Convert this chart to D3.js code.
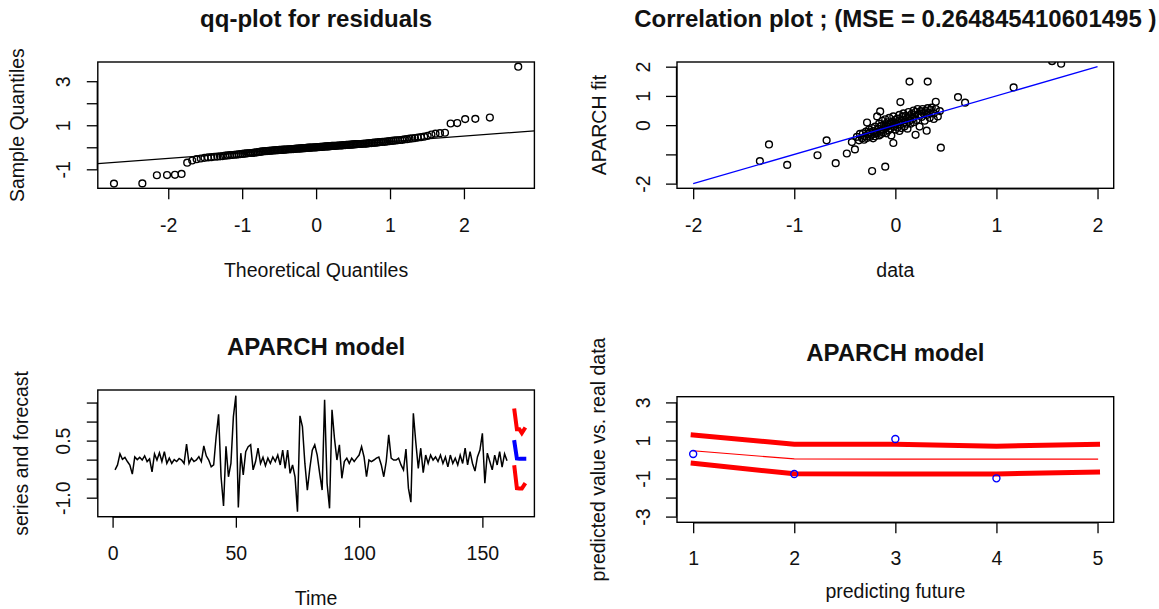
<!DOCTYPE html>
<html><head><meta charset="utf-8">
<script src="https://cdn.jsdelivr.net/npm/d3@7"></script>
<style>
body{margin:0;background:#fff}
svg{display:block}
text{font-family:"Liberation Sans",Arial,sans-serif;fill:#111}
</style>
</head><body>
<svg id="chart" width="1159" height="609"></svg>
<script>
// ---------------- DATA ----------------
// Panel 1: sorted standardized residuals (sample quantiles)
const qqSample = [
 -1.65,-1.64,-1.27,-1.26,-1.25,-1.21,-0.70,-0.60,
 -0.54,-0.51,-0.48,-0.46,-0.45,-0.43,-0.42,-0.41,-0.40,-0.38,-0.37,-0.36,
 -0.35,-0.34,-0.33,-0.32,-0.31,-0.30,-0.29,-0.28,-0.27,-0.26,
 -0.26,-0.25,-0.24,-0.23,-0.22,-0.21,-0.20,-0.19,-0.18,-0.17,
 -0.17,-0.16,-0.16,-0.15,-0.15,-0.14,-0.14,-0.13,-0.13,-0.12,
 -0.12,-0.12,-0.11,-0.11,-0.10,-0.10,-0.09,-0.09,-0.09,-0.08,
 -0.08,-0.07,-0.07,-0.06,-0.06,-0.06,-0.05,-0.05,-0.04,-0.04,
 -0.04,-0.03,-0.03,-0.02,-0.02,-0.02,-0.01,-0.01,0.00,0.00,
 0.00,0.01,0.01,0.02,0.02,0.02,0.03,0.03,0.04,0.04,
 0.04,0.05,0.05,0.06,0.06,0.06,0.07,0.07,0.08,0.08,
 0.08,0.09,0.09,0.10,0.10,0.11,0.11,0.11,0.12,0.12,
 0.13,0.13,0.14,0.14,0.15,0.15,0.15,0.16,0.16,0.17,
 0.17,0.18,0.19,0.19,0.20,0.21,0.21,0.22,0.23,0.24,
 0.25,0.25,0.26,0.27,0.28,0.29,0.30,0.31,0.32,0.33,
 0.34,0.36,0.37,0.39,0.40,0.42,0.44,
 0.46,0.48,0.52,0.58,0.62,0.64,0.66,1.08,1.10,1.28,1.29,1.35,3.66
];
const qqXTicks = [-2,-1,0,1,2];
const qqYTicks = [-1,0,1,2,3];
const qqYLabels = [-1,1,3];

// Panel 2: observed data (x) vs APARCH fitted values (y)
const corrData = [
 1.55,1.64,1.17,0.62,0.69,0.14,0.32,0.45,-1.25,-1.34,-1.07,-0.77,-0.68,-0.59,-0.48,-0.40,
 -0.23,-0.10,-0.43,-0.28,-0.15,0.05,0.40,0.31,0.20,-0.02,0.38,
 -0.38,-0.36,-0.35,-0.33,-0.32,-0.31,-0.30,-0.29,-0.28,-0.27,-0.26,-0.25,-0.25,-0.24,-0.23,
 -0.22,-0.22,-0.21,-0.20,-0.20,-0.19,-0.18,-0.18,-0.17,-0.16,-0.16,-0.15,-0.14,-0.14,-0.13,
 -0.12,-0.12,-0.11,-0.10,-0.10,-0.09,-0.08,-0.08,-0.07,-0.06,-0.06,-0.05,-0.04,-0.04,-0.03,
 -0.02,-0.02,-0.01,0.00,0.00,0.01,0.02,0.02,0.03,0.04,0.04,0.05,0.06,0.06,0.07,0.08,0.08,
 0.09,0.10,0.10,0.11,0.12,0.12,0.13,0.14,0.14,0.15,0.16,0.17,0.18,0.18,0.19,0.20,0.21,
 0.22,0.23,0.24,0.25,0.26,0.27,0.28,0.29,0.30,0.31,0.32,0.33,0.34,0.35,0.36,0.38,0.40,
 0.42,0.44
];
const corrFit = [
 2.19,2.10,1.29,0.96,0.77,1.49,1.49,-0.77,-0.66,-1.23,-1.36,-1.03,-0.52,-1.30,-0.97,-0.83,
 -1.57,-1.42,-0.58,0.09,0.47,0.79,0.80,-0.19,-0.33,-0.61,0.21,
 -0.40,-0.52,-0.30,-0.45,-0.28,-0.50,-0.38,-0.22,-0.44,-0.30,-0.15,-0.40,-0.25,-0.33,-0.10,
 -0.45,-0.20,-0.30,-0.05,-0.38,-0.22,0.30,-0.28,-0.12,-0.35,0.05,-0.20,-0.02,-0.30,0.15,
 -0.15,-0.25,0.02,-0.10,0.20,-0.28,-0.05,0.10,-0.18,0.00,0.25,-0.12,0.05,-0.35,0.12,
 -0.05,0.30,0.02,-0.15,0.18,0.05,-0.08,0.22,0.10,-0.20,0.35,0.02,0.15,-0.10,0.28,0.08,0.40,
 -0.05,0.18,0.32,0.05,0.25,-0.12,0.45,0.15,0.30,0.05,0.38,0.22,0.50,0.10,0.30,0.45,0.18,
 0.55,0.35,-0.05,0.48,0.28,0.55,0.40,0.15,0.50,0.35,0.58,0.42,0.25,0.52,0.60,0.40,0.55,
 0.30,0.48
];
const corrTicks = [-2,-1,0,1,2];
const corrYLabels = [-2,0,1,2];

// Panel 3: the series and the 5-step forecast (upper / mean / lower)
const seriesValues = [
 -0.27,-0.14,0.15,0.01,0.06,-0.05,-0.14,-0.38,0.07,0.00,
 0.06,-0.01,0.10,-0.05,0.02,-0.32,0.15,-0.01,0.18,-0.05,
 0.21,-0.10,0.04,-0.10,0.00,-0.05,0.03,-0.01,-0.10,0.41,
 -0.10,0.04,-0.05,-0.01,0.08,-0.05,0.36,0.10,-0.01,-0.19,
 -0.14,0.60,1.19,-0.45,-1.22,0.35,-0.45,-0.10,1.13,1.68,
 -1.26,0.17,-0.40,0.21,0.34,0.39,-0.27,-0.05,0.30,-0.10,
 0.06,-0.16,0.04,-0.10,0.07,-0.05,0.12,-0.14,0.25,-0.23,
 0.25,-0.36,-0.14,-0.45,-1.37,1.15,0.87,-0.10,-0.80,-0.23,
 0.25,0.39,0.12,-0.36,-0.80,1.57,-0.62,-1.28,1.31,0.56,
 -0.01,0.39,-0.49,-0.05,0.04,-0.10,0.04,-0.05,0.04,0.12,
 0.34,0.07,-0.45,-0.01,-0.05,-0.01,0.04,0.07,-0.14,-0.45,
 -0.05,0.65,0.04,-0.01,-0.01,0.04,-0.14,-0.27,0.28,-0.75,
 -1.12,1.22,0.45,-0.23,0.30,-0.34,0.12,-0.10,0.12,-0.01,
 0.07,-0.05,0.12,-0.10,0.07,-0.19,0.12,-0.10,0.04,-0.14,
 0.12,-0.10,0.30,-0.14,0.21,-0.10,-0.30,0.07,0.25,0.69,
 -0.62,0.17,-0.05,-0.27,0.12,-0.14,0.21,-0.20,0.15,-0.03
];
const forecastTime = [163,164,165,166,167];
const seriesXTicks = [0,50,100,150];
const seriesYTicks = [-1.0,-0.5,0.0,0.5,1.0,1.5];
const seriesYLabels = [-1.0,0.5];

// Panel 4: forecast vs. real data
const stepsAhead = [1,2,3,4,5];
const fcUpper = [1.29,0.80,0.80,0.70,0.80];
const fcMean  = [0.46,0.03,0.02,0.02,0.02];
const fcLower = [-0.20,-0.75,-0.76,-0.76,-0.66];
const realSteps = [1,2,3,4];
const realData = [0.29,-0.76,1.08,-0.99];
const predYTicks = [-3,-2,-1,0,1,2,3];
const predYLabels = [-3,-1,1,3];

// ---------------- HELPERS ----------------
function qnorm(p){
  const a=[-3.969683028665376e+01,2.209460984245205e+02,-2.759285104469687e+02,1.383577518672690e+02,-3.066479806614716e+01,2.506628277459239e+00];
  const b=[-5.447609879822406e+01,1.615858368580409e+02,-1.556989798598866e+02,6.680131188771972e+01,-1.328068155288572e+01];
  const c=[-7.784894002430293e-03,-3.223964580411365e-01,-2.400758277161838e+00,-2.549732539343734e+00,4.374664141464968e+00,2.938163982698783e+00];
  const d=[7.784695709041462e-03,3.224671290700398e-01,2.445134137142996e+00,3.754408661907416e+00];
  const pl=0.02425, ph=1-pl;
  if(p<pl){const q=Math.sqrt(-2*Math.log(p));return (((((c[0]*q+c[1])*q+c[2])*q+c[3])*q+c[4])*q+c[5])/((((d[0]*q+d[1])*q+d[2])*q+d[3])*q+1);}
  if(p<=ph){const q=p-0.5,r=q*q;return (((((a[0]*r+a[1])*r+a[2])*r+a[3])*r+a[4])*r+a[5])*q/(((((b[0]*r+b[1])*r+b[2])*r+b[3])*r+b[4])*r+1);}
  const q=Math.sqrt(-2*Math.log(1-p));return -(((((c[0]*q+c[1])*q+c[2])*q+c[3])*q+c[4])*q+c[5])/((((d[0]*q+d[1])*q+d[2])*q+d[3])*q+1);
}
function rExt(lo,hi){const r=hi-lo;return [lo-0.04*r,hi+0.04*r];}
const fmtInt = d => String(d);              // ASCII hyphen-minus like R
const fmt1 = d => d.toFixed(1);

const svg = d3.select('#chart');
const AX_FS = 19.5, TITLE_FS = 24, TICK = 11;

function panel(id, box){
  const g = svg.append('g');
  g.append('clipPath').attr('id','clip'+id).append('rect')
    .attr('x',box.x0).attr('y',box.y0).attr('width',box.x1-box.x0).attr('height',box.y1-box.y0);
  const plot = g.append('g').attr('clip-path',`url(#clip${id})`);
  return {g, plot};
}
function frame(g, box){
  g.append('rect').attr('x',box.x0).attr('y',box.y0).attr('width',box.x1-box.x0).attr('height',box.y1-box.y0)
    .attr('fill','none').attr('stroke','#000').attr('stroke-width',1.4);
}
function xAxis(g, scale, y, ticks, labels, fmt, labelBase){
  const ax = d3.axisBottom(scale).tickValues(ticks).tickSizeInner(TICK).tickSizeOuter(0)
     .tickFormat(d => labels.includes(d) ? fmt(d) : '');
  const a = g.append('g').attr('transform',`translate(0,${y})`).call(ax);
  a.attr('font-size',null).attr('font-family',null);
  a.select('.domain').attr('d',`M${scale(ticks[0])},0.5H${scale(ticks[ticks.length-1])}`).attr('stroke','#000').attr('stroke-width',1.3);
  a.selectAll('.tick line').attr('stroke','#000').attr('stroke-width',1.3);
  a.selectAll('.tick text').attr('y',labelBase).attr('dy',null).attr('fill','#111').style('font-size',AX_FS+'px');
}
function yAxis(g, scale, x, ticks, labels, fmt, labelBase){
  const ax = d3.axisLeft(scale).tickValues(ticks).tickSizeInner(TICK).tickSizeOuter(0)
     .tickFormat(d => labels.includes(d) ? fmt(d) : '');
  const a = g.append('g').attr('transform',`translate(${x},0)`).call(ax);
  a.attr('font-size',null).attr('font-family',null);
  a.select('.domain').attr('d',`M-0.5,${scale(ticks[0])}V${scale(ticks[ticks.length-1])}`).attr('stroke','#000').attr('stroke-width',1.3);
  a.selectAll('.tick line').attr('stroke','#000').attr('stroke-width',1.3);
  a.selectAll('.tick text').attr('x',0).attr('y',0).attr('dy',null).attr('text-anchor','middle')
    .attr('transform',`translate(${-labelBase},0) rotate(-90)`).attr('fill','#111').style('font-size',AX_FS+'px');
}
function title(txt, x, y){
  svg.append('text').attr('x',x).attr('y',y).attr('text-anchor','middle')
    .style('font-size',TITLE_FS+'px').style('font-weight','bold').text(txt);
}
function xlab(txt,x,y){
  svg.append('text').attr('x',x).attr('y',y).attr('text-anchor','middle').style('font-size',AX_FS+'px').text(txt);
}
function ylab(txt,x,y){
  svg.append('text').attr('transform',`translate(${x},${y}) rotate(-90)`).attr('text-anchor','middle')
    .style('font-size',AX_FS+'px').text(txt);
}
function circles(plot, xs, ys, sx, sy, color, r){
  plot.selectAll(null).data(xs.map((x,i)=>[x,ys[i]])).join('circle')
    .attr('cx',d=>sx(d[0])).attr('cy',d=>sy(d[1])).attr('r',r)
    .attr('fill','none').attr('stroke',color).attr('stroke-width',1.4);
}

// ---------------- PANEL 1: QQ plot ----------------
{
  const box = {x0:97.8,x1:534.4,y0:62,y1:188.3};
  const n = qqSample.length;
  const theo = qqSample.map((_,i)=>qnorm((i+0.5)/n));
  const x = d3.scaleLinear().domain(rExt(d3.min(theo),d3.max(theo))).range([box.x0,box.x1]);
  const y = d3.scaleLinear().domain(rExt(d3.min(qqSample),d3.max(qqSample))).range([box.y1,box.y0]);
  const {g, plot} = panel(1, box);
  circles(plot, theo, qqSample, x, y, '#000', 3.4);
  const q1 = d3.quantile(qqSample,0.25), q3 = d3.quantile(qqSample,0.75);
  const slope = (q3-q1)/(qnorm(0.75)-qnorm(0.25)), icp = q1 - slope*qnorm(0.25);
  const xd = x.domain();
  plot.append('line').attr('x1',x(xd[0])).attr('x2',x(xd[1]))
    .attr('y1',y(icp+slope*xd[0])).attr('y2',y(icp+slope*xd[1])).attr('stroke','#000').attr('stroke-width',1.2);
  frame(g, box);
  xAxis(g, x, box.y1, qqXTicks, qqXTicks, fmtInt, 43.4);
  yAxis(g, y, box.x0, qqYTicks, qqYLabels, fmtInt, 27.4);
  title('qq-plot for residuals', (box.x0+box.x1)/2, 27);
  xlab('Theoretical Quantiles', (box.x0+box.x1)/2, 277);
  ylab('Sample Quantiles', 23.5, (box.y0+box.y1)/2);
}

// ---------------- PANEL 2: Correlation plot ----------------
{
  const box = {x0:677,x1:1113.7,y0:62,y1:188.3};
  const x = d3.scaleLinear().domain(rExt(-2,2)).range([box.x0,box.x1]);
  const y = d3.scaleLinear().domain(rExt(-2,2)).range([box.y1,box.y0]);
  const {g, plot} = panel(2, box);
  circles(plot, corrData, corrFit, x, y, '#000', 3.4);
  plot.append('line').attr('x1',x(-2)).attr('y1',y(-2)).attr('x2',x(2)).attr('y2',y(2))
    .attr('stroke','#0000ff').attr('stroke-width',1.3);
  frame(g, box);
  xAxis(g, x, box.y1, corrTicks, corrTicks, fmtInt, 43.4);
  yAxis(g, y, box.x0, corrTicks, corrYLabels, fmtInt, 26.6);
  title('Correlation plot ; (MSE = 0.264845410601495 )', (box.x0+box.x1)/2, 27);
  xlab('data', (box.x0+box.x1)/2, 277);
  ylab('APARCH fit', 605.5, (box.y0+box.y1)/2);
}

// ---------------- PANEL 3: series and forecast ----------------
{
  const box = {x0:97.8,x1:534.4,y0:390,y1:516.7};
  const x = d3.scaleLinear().domain([-6,171.1]).range([box.x0,box.x1]);
  const y = d3.scaleLinear().domain([-1.5,1.83]).range([box.y1,box.y0]);
  const {g, plot} = panel(3, box);
  const line = d3.line().x(d=>x(d[0])).y(d=>y(d[1]));
  plot.append('path').attr('d', line(seriesValues.map((v,i)=>[i+1,v])))
    .attr('fill','none').attr('stroke','#000').attr('stroke-width',1.5).attr('stroke-linejoin','miter');
  [[fcUpper,'#ff0000'],[fcMean,'#0000ff'],[fcLower,'#ff0000']].forEach(([vals,col])=>{
    plot.append('path').attr('d', line(vals.map((v,i)=>[forecastTime[i],v])))
      .attr('fill','none').attr('stroke',col).attr('stroke-width',4).attr('stroke-linecap','square');
  });
  frame(g, box);
  xAxis(g, x, box.y1, seriesXTicks, seriesXTicks, fmtInt, 43.3);
  yAxis(g, y, box.x0, seriesYTicks, seriesYLabels, fmt1, 27.4);
  title('APARCH model', (box.x0+box.x1)/2, 355);
  xlab('Time', (box.x0+box.x1)/2, 605);
  ylab('series and forecast', 27.5, (box.y0+box.y1)/2);
}

// ---------------- PANEL 4: predicted vs real ----------------
{
  const box = {x0:677,x1:1113.7,y0:396.7,y1:522.3};
  const x = d3.scaleLinear().domain(rExt(1,5)).range([box.x0,box.x1]);
  const y = d3.scaleLinear().domain([-3.3,3.3]).range([box.y1,box.y0]);
  const {g, plot} = panel(4, box);
  const line = d3.line().x(d=>x(d[0])).y(d=>y(d[1]));
  [[fcUpper,5],[fcLower,5],[fcMean,1.2]].forEach(([vals,w])=>{
    plot.append('path').attr('d', line(vals.map((v,i)=>[stepsAhead[i],v])))
      .attr('fill','none').attr('stroke','#ff0000').attr('stroke-width',w).attr('stroke-linecap','square');
  });
  circles(plot, realSteps, realData, x, y, '#0000ff', 3.5);
  frame(g, box);
  xAxis(g, x, box.y1, stepsAhead, stepsAhead, fmtInt, 42.7);
  yAxis(g, y, box.x0, predYTicks, predYLabels, fmtInt, 26.6);
  title('APARCH model', (box.x0+box.x1)/2, 361);
  xlab('predicting future', (box.x0+box.x1)/2, 598);
  ylab('predicted value vs. real data', 605, (box.y0+box.y1)/2);
}
</script>
</body></html>
